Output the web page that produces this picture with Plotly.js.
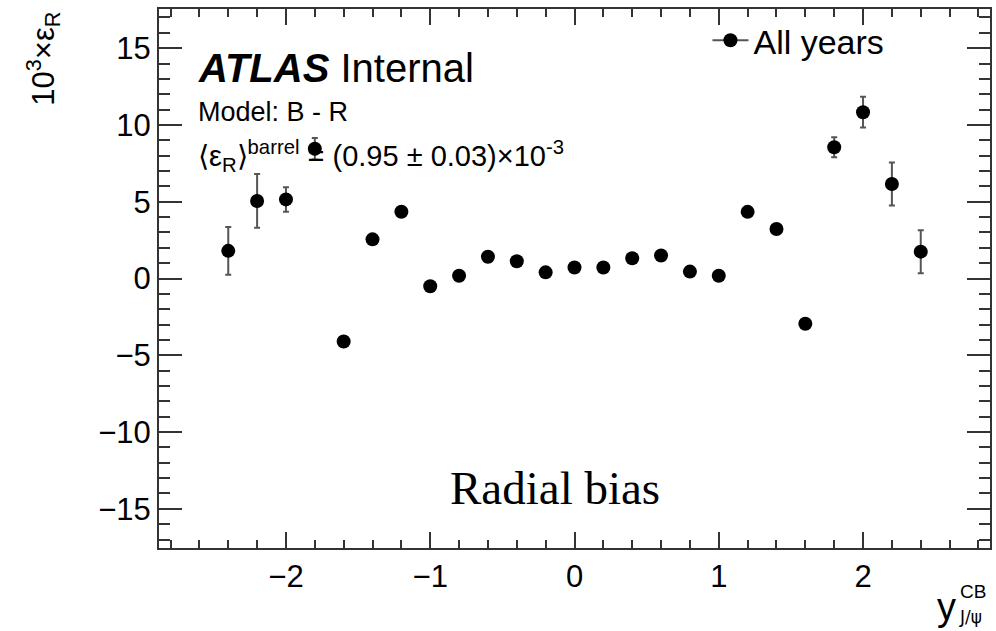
<!DOCTYPE html>
<html>
<head>
<meta charset="utf-8">
<script src="https://cdn.plot.ly/plotly-3.0.1.min.js"></script>
<style>html,body{margin:0;padding:0;background:#fff;} #chart{width:996px;height:631px;}</style>
</head>
<body>
<div id="chart"></div>
<script>
// y^CB_{J/psi} bin centres
const yCB = [-2.4, -2.2, -2.0, -1.8, -1.6, -1.4, -1.2, -1.0, -0.8, -0.6, -0.4, -0.2, 0.0,
             0.2, 0.4, 0.6, 0.8, 1.0, 1.2, 1.4, 1.6, 1.8, 2.0, 2.2, 2.4];
// 10^3 x epsilon_R
const epsR = [1.8, 5.05, 5.15, 8.45, -4.1, 2.55, 4.35, -0.5, 0.18, 1.42, 1.12, 0.4, 0.72,
              0.72, 1.32, 1.5, 0.45, 0.18, 4.34, 3.22, -2.95, 8.55, 10.83, 6.15, 1.75];
const epsErr = [1.55, 1.75, 0.8, 0.7, 0.3, 0.2, 0.2, 0.2, 0.2, 0.2, 0.2, 0.2, 0.2,
                0.2, 0.2, 0.2, 0.2, 0.2, 0.2, 0.2, 0.3, 0.65, 1.0, 1.4, 1.4];
const seriesName = "All years";
const xTickVals = [-2, -1, 0, 1, 2];
const yTickVals = [-15, -10, -5, 0, 5, 10, 15];

const FONT = "Liberation Sans, Arial, Helvetica, sans-serif";
const AXC = "#333333";

const data = [
  {
    x: yCB, y: epsR, type: "scatter", mode: "markers", showlegend: false,
    marker: {color: "#000", size: 14},
    error_y: {type: "data", array: epsErr, visible: true, color: "#555", thickness: 2, width: 3}
  },
  {
    x: [null], y: [null], type: "scatter", mode: "lines+markers", name: seriesName,
    marker: {color: "#000", size: 14}, line: {color: "#555", width: 2}
  }
];

const layout = {
  width: 996, height: 631,
  margin: {l: 159, r: 6, t: 9, b: 83},
  paper_bgcolor: "#fff", plot_bgcolor: "#fff",
  font: {family: FONT, color: "#000"},
  xaxis: {
    range: [-2.88, 2.88], tickvals: xTickVals, ticks: "inside", ticklen: 16, tickwidth: 2,
    tickcolor: AXC, showline: true, linecolor: AXC, linewidth: 2, mirror: "ticks",
    showgrid: false, zeroline: false, tickfont: {size: 31, family: FONT, color: "#000"},
    minor: {dtick: 0.2, tick0: 0, ticks: "inside", ticklen: 8, tickwidth: 2, tickcolor: AXC, showgrid: false}
  },
  yaxis: {
    range: [-17.55, 17.55], tickvals: yTickVals, ticks: "inside", ticklen: 23, tickwidth: 2,
    tickcolor: AXC, showline: true, linecolor: AXC, linewidth: 2, mirror: "ticks",
    showgrid: false, zeroline: false, tickfont: {size: 31, family: FONT, color: "#000"},
    minor: {dtick: 1, tick0: 0, ticks: "inside", ticklen: 11, tickwidth: 2, tickcolor: AXC, showgrid: false}
  },
  legend: {
    x: 0.66, y: 0.995, xanchor: "left", yanchor: "top", bgcolor: "rgba(0,0,0,0)",
    font: {size: 34, family: FONT, color: "#000"}, itemwidth: 36
  },
  annotations: [
    {xref: "paper", yref: "paper", x: 0.044, y: 0.89, xanchor: "left", yanchor: "middle", showarrow: false,
     text: "<b><i>ATLAS</i></b> Internal", font: {size: 40, family: FONT, color: "#000"}},
    {xref: "paper", yref: "paper", x: 0.044, y: 0.809, xanchor: "left", yanchor: "middle", showarrow: false,
     text: "Model: B - R", font: {size: 27, family: FONT, color: "#000"}},
    {xref: "paper", yref: "paper", x: 0.044, y: 0.727, xanchor: "left", yanchor: "middle", showarrow: false,
     text: "⟨ε<sub>R</sub>⟩<sup>barrel</sup> = (0.95 ± 0.03)×10<sup>-3</sup>", font: {size: 29, family: FONT, color: "#000"}},
    {xref: "paper", yref: "paper", x: 0.4765, y: 0.111, xanchor: "center", yanchor: "middle", showarrow: false,
     text: "Radial bias", font: {size: 47, family: "Liberation Serif, Times New Roman, serif", color: "#000"}},
    {xref: "paper", yref: "paper", x: -0.14, y: 0.998, xanchor: "center", yanchor: "top", showarrow: false,
     textangle: -90, text: "10<sup>3</sup>×ε<sub>R</sub>", font: {size: 31, family: FONT, color: "#000"}},
    {xref: "paper", yref: "paper", x: 0.962, y: -0.11, xanchor: "right", yanchor: "middle", showarrow: false,
     text: "y", font: {size: 38, family: FONT, color: "#000"}},
    {xref: "paper", yref: "paper", x: 0.962, y: -0.08, xanchor: "left", yanchor: "middle", showarrow: false,
     text: "CB", font: {size: 19, family: FONT, color: "#000"}},
    {xref: "paper", yref: "paper", x: 0.96, y: -0.128, xanchor: "left", yanchor: "middle", showarrow: false,
     text: "J/ψ", font: {size: 17, family: "DejaVu Sans, sans-serif", color: "#000"}}
  ]
};

Plotly.newPlot("chart", data, layout, {displayModeBar: false, staticPlot: true});
</script>
</body>
</html>
